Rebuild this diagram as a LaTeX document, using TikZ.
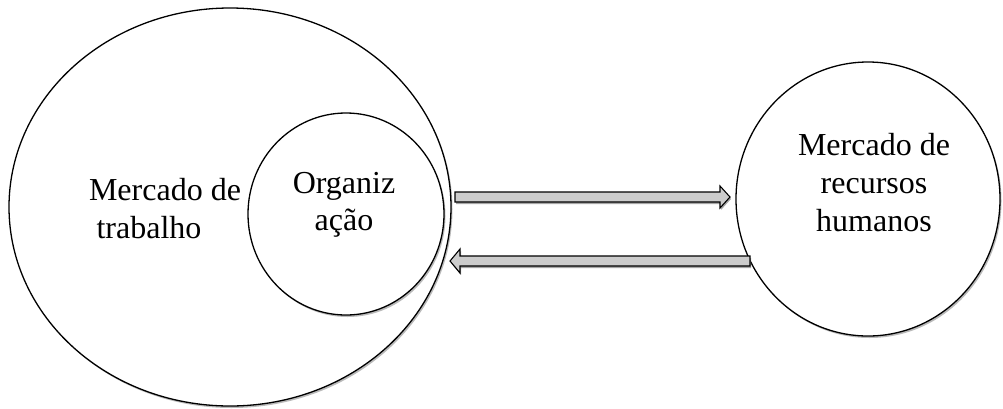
\documentclass[tikz,border=0pt]{standalone}
\usepackage{fontspec}
\setmainfont{Liberation Serif}
\usetikzlibrary{shadows,shapes.geometric}
\begin{document}
\begin{tikzpicture}[x=1pt,y=-1pt,
  circ/.style={draw=black,line width=1.3pt,fill=white,drop shadow={shadow xshift=1.5pt,shadow yshift=-2pt,fill=black!45,opacity=0.6}},
  lbl/.style={font=\fontsize{32}{38}\selectfont,inner sep=0pt,anchor=base},
  blockarrow/.style={draw=black,line width=1.1pt,fill=black!20,line join=miter,drop shadow={shadow xshift=1pt,shadow yshift=-2pt,fill=black!50,opacity=0.7}}]
\useasboundingbox (0,0) rectangle (1003,408);
% circles
\node[circ,ellipse,minimum width=442,minimum height=398,inner sep=0pt] (mt) at (230,207) {};
\node[circ,ellipse,minimum width=196,minimum height=202,inner sep=0pt] (org) at (346,214) {};
\node[circ,ellipse,minimum width=264,minimum height=274,inner sep=0pt] (rh) at (868,199) {};
% labels
\node[lbl] (t1) at (165,200) {Mercado de};
\node[lbl] (t2) at (149,238) {trabalho};
\node[lbl] (t3) at (344,193) {Organiz};
\node[lbl] (t4) at (344,230) {ação};
\node[lbl] (t5) at (874,155) {Mercado de};
\node[lbl] (t6) at (874,193) {recursos};
\node[lbl] (t7) at (874,231) {humanos};
% arrows
\coordinate (a1s) at (455,197);
\coordinate (a1e) at (730,197);
\coordinate (a2s) at (750,261);
\coordinate (a2e) at (450,261);
\draw[blockarrow] ([yshift=-5]a1s) -- ([xshift=-10,yshift=-5]a1e) -- ([xshift=-10,yshift=-11]a1e) -- (a1e)
  -- ([xshift=-10,yshift=11]a1e) -- ([xshift=-10,yshift=5]a1e) -- ([yshift=5]a1s) -- cycle;
\draw[blockarrow] ([yshift=-5]a2s) -- ([xshift=10,yshift=-5]a2e) -- ([xshift=10,yshift=-12]a2e) -- (a2e)
  -- ([xshift=10,yshift=12]a2e) -- ([xshift=10,yshift=5]a2e) -- ([yshift=5]a2s) -- cycle;
\end{tikzpicture}
\end{document}
